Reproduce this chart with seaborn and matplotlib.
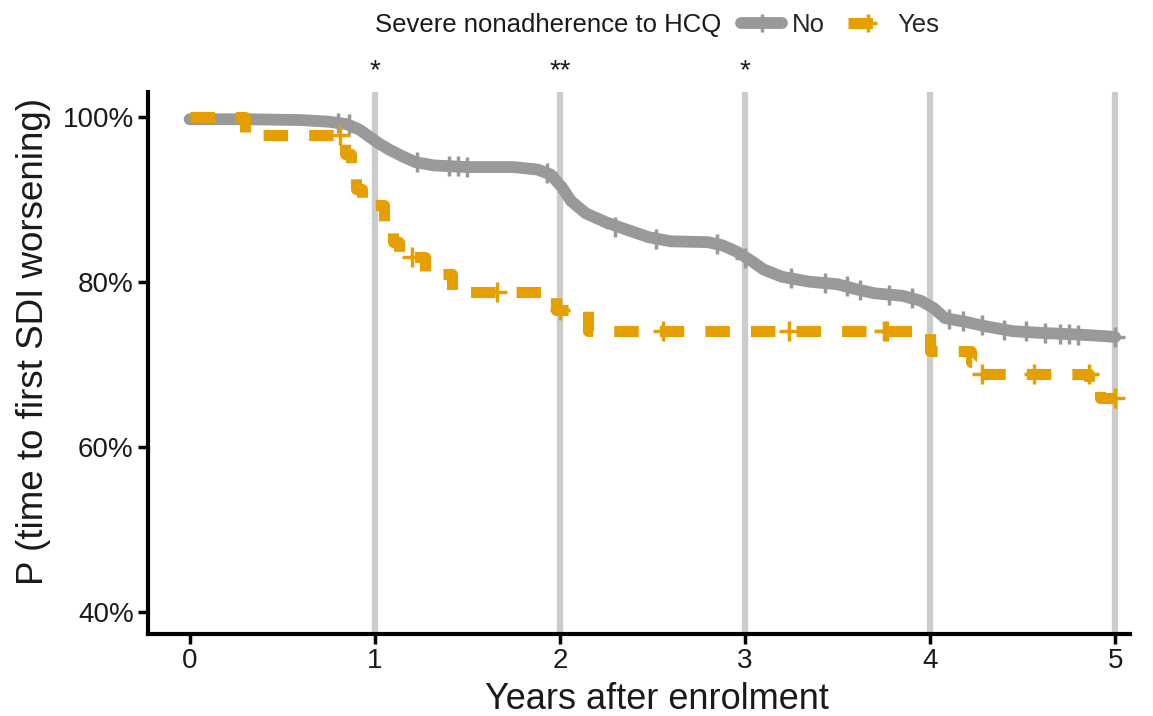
import numpy as np
import pandas as pd
import matplotlib.pyplot as plt
import seaborn as sns
from matplotlib.lines import Line2D

# --- data (years, % event-free) ---
no_time = [0.00, 0.30, 0.60, 0.75, 0.85, 0.92, 0.97, 1.02, 1.08, 1.15, 1.22, 1.32,
           1.50, 1.75, 1.88, 1.95, 2.01, 2.06, 2.14, 2.25, 2.35, 2.48, 2.60, 2.80,
           2.88, 2.96, 3.03, 3.10, 3.20, 3.35, 3.50, 3.60, 3.70, 3.85, 3.95, 4.02,
           4.08, 4.20, 4.30, 4.45, 4.60, 4.80, 4.95, 5.00]
no_surv = [99.7, 99.7, 99.6, 99.4, 99.1, 98.4, 97.6, 96.8, 96.0, 95.2, 94.5, 94.1,
           93.9, 93.9, 93.6, 93.0, 91.5, 89.8, 88.3, 87.2, 86.4, 85.4, 84.9, 84.8,
           84.4, 83.6, 82.6, 81.5, 80.6, 80.0, 79.7, 79.1, 78.6, 78.3, 77.7, 76.8,
           75.6, 75.1, 74.6, 74.0, 73.8, 73.6, 73.4, 73.3]

yes_time = [0.00, 0.30, 0.84, 0.87, 0.90, 0.93, 1.05, 1.10, 1.13, 1.27, 1.42, 1.98,
            2.15, 4.00, 4.22, 4.26, 4.86, 4.92, 5.00]
yes_surv = [100.0, 97.8, 95.5, 93.0, 91.2, 89.3, 86.8, 84.8, 83.0, 81.0, 78.8, 76.6,
            74.0, 71.6, 70.3, 68.8, 67.5, 65.9, 65.9]

no_cens_time = [0.80, 0.86, 1.23, 1.40, 1.45, 1.50, 1.93, 2.30, 2.52, 2.85, 3.00, 3.25,
                3.43, 3.55, 3.62, 3.78, 3.90, 4.10, 4.18, 4.28, 4.40, 4.52, 4.62, 4.70,
                4.75, 4.80, 5.00]
no_cens_surv = [99.3, 99.1, 94.5, 94.0, 94.0, 93.9, 93.2, 86.6, 85.2, 84.6, 82.9, 80.4,
                79.9, 79.5, 79.0, 78.4, 78.0, 75.5, 75.2, 74.7, 74.2, 74.0, 73.8, 73.7,
                73.7, 73.6, 73.3]

yes_cens_time = [0.81, 1.20, 1.66, 2.00, 2.56, 3.24, 3.75, 3.77, 4.28, 4.56, 4.86, 5.00]
yes_cens_surv = [97.8, 83.0, 78.8, 76.6, 74.0, 74.0, 74.0, 74.0, 68.8, 68.8, 68.8, 65.9]

group_labels = ["No", "Yes"]
year_ticks = [0, 1, 2, 3, 4, 5]
pct_ticks = [40, 60, 80, 100]
sig_years = [1, 2, 3]
sig_marks = ["*", "**", "*"]

GRAY = "#999999"
ORANGE = "#E69F00"
TEXT = "#1a1a1a"
DASH = (0, (2.2, 1.9))

sns.set_theme(style="ticks")
plt.rcParams["font.family"] = ["Liberation Sans", "DejaVu Sans"]

fig = plt.figure(figsize=(11.53, 7.16), dpi=100)
ax = fig.add_axes([0.128, 0.1145, 0.852, 0.757])

# yearly reference lines
for yr in year_ticks[1:]:
    ax.axvline(yr, color="#cccccc", lw=4.5, zorder=1)

no_df = pd.DataFrame({"time": no_time, "surv": no_surv})
yes_df = pd.DataFrame({"time": yes_time, "surv": yes_surv})

sns.lineplot(data=no_df, x="time", y="surv", color=GRAY, lw=8.5, ax=ax,
             estimator=None, sort=False, zorder=3)
sns.scatterplot(x=no_cens_time, y=no_cens_surv, marker="+", s=200, color=GRAY,
                linewidth=2.5, ax=ax, zorder=3)

sns.lineplot(data=yes_df, x="time", y="surv", color=ORANGE, lw=8, ax=ax,
             estimator=None, sort=False, drawstyle="steps-post",
             linestyle=DASH, zorder=4)
sns.scatterplot(x=yes_cens_time, y=yes_cens_surv, marker="+", s=220, color=ORANGE,
                linewidth=2.5, ax=ax, zorder=4)

ax.set_xlim(-0.227, 5.08)
ax.set_ylim(37.3, 103.0)
ax.set_xticks(year_ticks)
ax.set_yticks(pct_ticks)
ax.set_yticklabels([f"{p}%" for p in pct_ticks])
ax.tick_params(labelsize=20, length=7, width=2.5, color="black", labelcolor=TEXT, pad=3)
for side in ["left", "bottom"]:
    ax.spines[side].set_linewidth(3)
    ax.spines[side].set_color("black")
sns.despine(ax=ax)

ax.set_xlabel("Years after enrolment", fontsize=26, color=TEXT)
ax.xaxis.set_label_coords(0.518, -0.088)
ax.set_ylabel("P (time to first SDI worsening)", fontsize=26.5, color=TEXT)
ax.yaxis.set_label_coords(-0.098, 0.54)

# significance stars
for yr, mark in zip(sig_years, sig_marks):
    ax.text(yr, 105.5, mark, ha="center", va="center", fontsize=20,
            color=TEXT, clip_on=False)

# legend row
fig.text(0.325, 0.965, "Severe nonadherence to HCQ", ha="left", va="center",
         fontsize=18.5, color=TEXT)
handles = [
    Line2D([], [], color=GRAY, lw=8.5, marker="+", ms=13, mew=2.5),
    Line2D([], [], color=ORANGE, lw=8, ls=DASH, marker="+", ms=13, mew=2.5),
]
fig.legend(handles, group_labels, ncol=2, loc="center left",
           bbox_to_anchor=(0.643, 0.965), frameon=False, fontsize=18.5,
           handlelength=1.6, handletextpad=0.35, columnspacing=0.9, borderpad=0,
           borderaxespad=0)

fig.savefig("out.png", dpi=100)
